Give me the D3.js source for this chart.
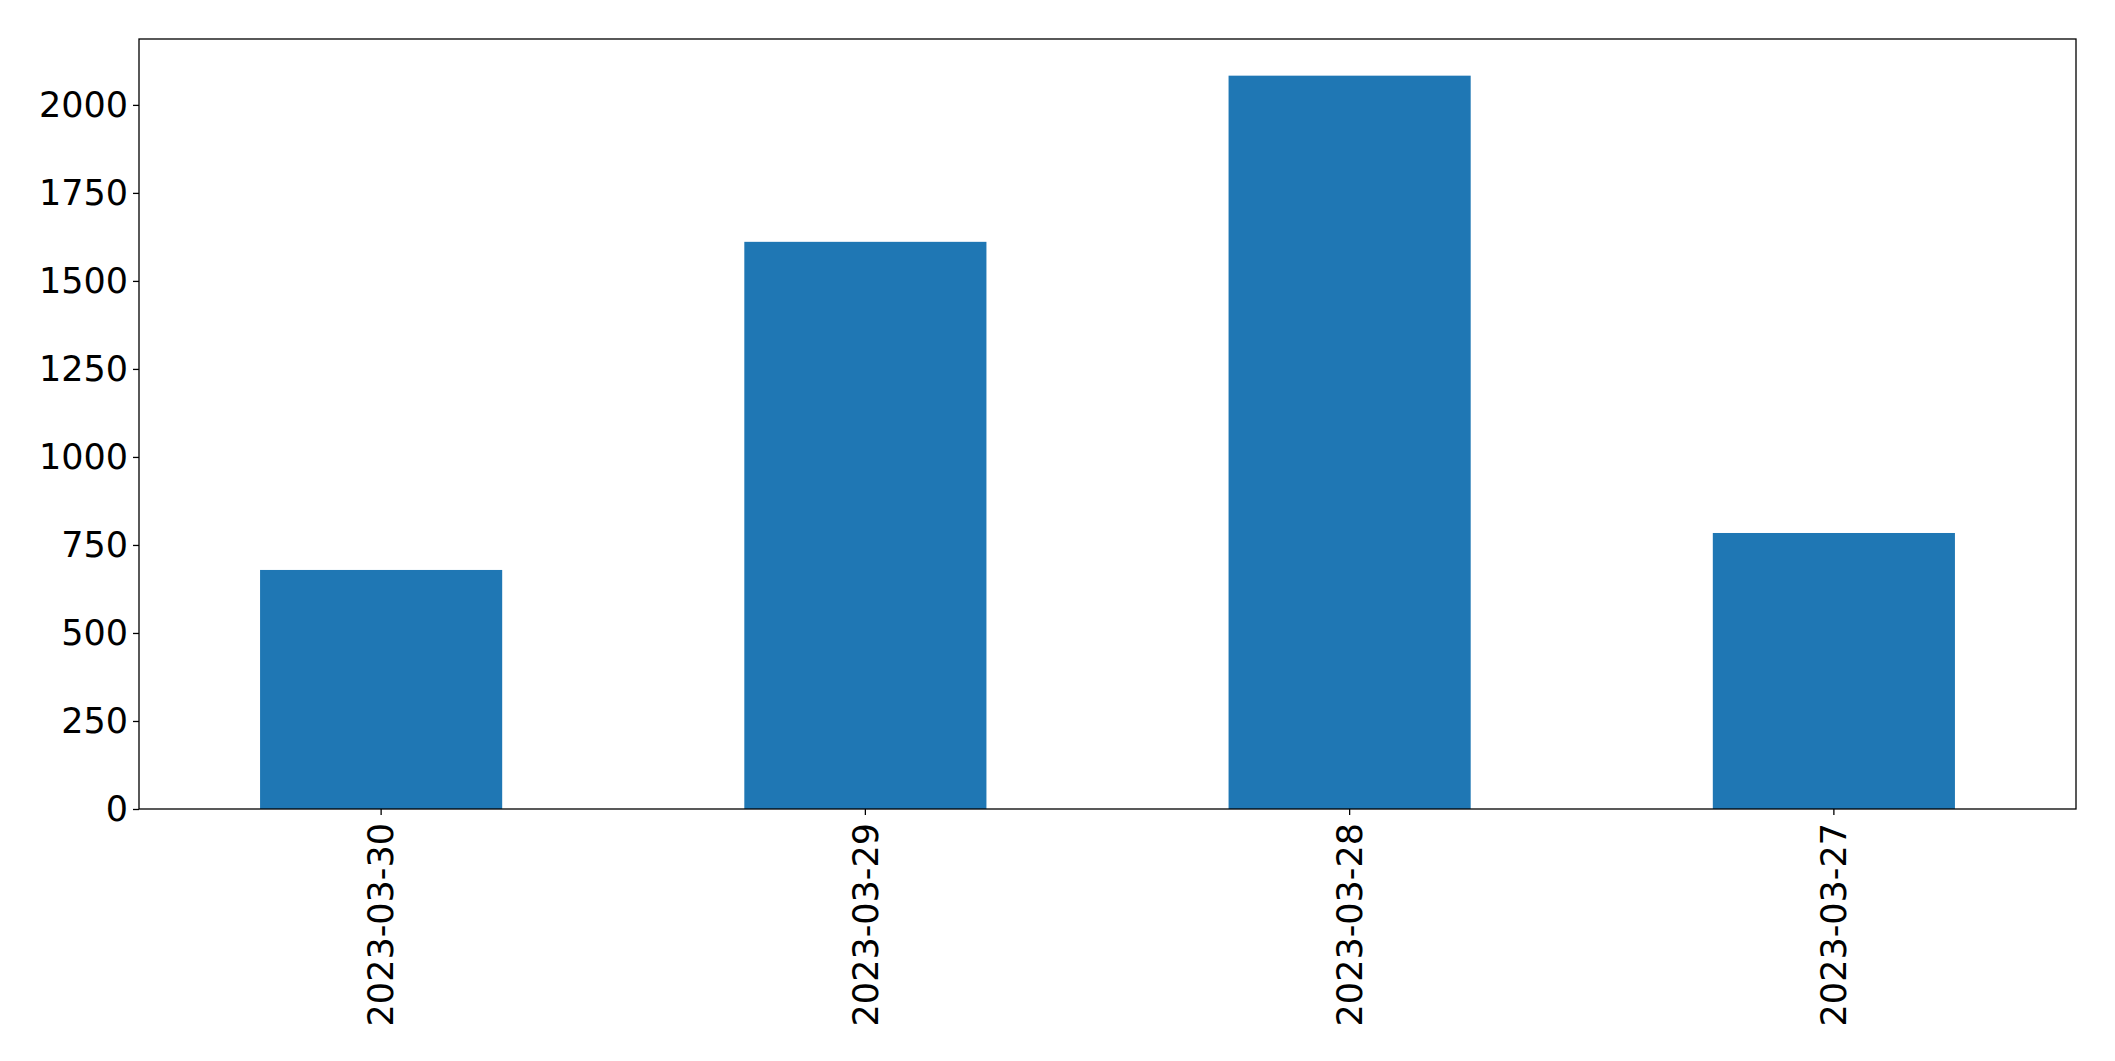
<!DOCTYPE html>
<html>
<head>
<meta charset="utf-8">
<script src="https://cdn.jsdelivr.net/npm/d3@7"></script>
<style>
  html, body { margin: 0; padding: 0; background: #fff; }
  svg { display: block; font-family: "DejaVu Sans", sans-serif; }
</style>
</head>
<body>
<svg id="chart" width="2115" height="1061"></svg>
<script>
const categories = ["2023-03-30", "2023-03-29", "2023-03-28", "2023-03-27"];
const values = [679, 1611, 2083, 784];
const yTicks = [0, 250, 500, 750, 1000, 1250, 1500, 1750, 2000];

const W = 2115, H = 1061;
const margin = { left: 139, right: 2076, top: 39, bottom: 809 };
const svg = d3.select("#chart");

const x = d3.scaleBand().domain(categories).range([margin.left, margin.right]).paddingInner(0.5).paddingOuter(0.25);
const yMax = d3.max(values) * 1.05;
const y = d3.scaleLinear().domain([0, yMax]).range([margin.bottom, margin.top]);

svg.append("g").selectAll("rect").data(values).join("rect")
  .attr("x", (d, i) => x(categories[i]))
  .attr("width", x.bandwidth())
  .attr("y", d => y(d))
  .attr("height", d => y(0) - y(d))
  .attr("fill", "#1f77b4");

// frame
svg.append("rect")
  .attr("x", margin.left).attr("y", margin.top)
  .attr("width", margin.right - margin.left)
  .attr("height", margin.bottom - margin.top)
  .attr("fill", "none").attr("stroke", "#000").attr("stroke-width", 1.3);

const yAxis = svg.append("g")
  .attr("transform", `translate(${margin.left},0)`)
  .call(d3.axisLeft(y).tickValues(yTicks).tickSize(6).tickPadding(5).tickFormat(d3.format("d")));
yAxis.select(".domain").remove();
yAxis.selectAll("line").attr("stroke", "#000").attr("stroke-width", 1.3);
yAxis.selectAll("text").attr("font-size", 35).attr("fill", "#000")
  .attr("font-family", "DejaVu Sans, sans-serif");

const xAxis = svg.append("g")
  .attr("transform", `translate(0,${margin.bottom})`)
  .call(d3.axisBottom(x).tickSize(6).tickPadding(8));
xAxis.select(".domain").remove();
xAxis.selectAll("line").attr("stroke", "#000").attr("stroke-width", 1.3);
xAxis.selectAll("text")
  .attr("font-size", 35).attr("fill", "#000")
  .attr("font-family", "DejaVu Sans, sans-serif")
  .attr("transform", "rotate(-90)")
  .attr("text-anchor", "end")
  .attr("dy", "0.35em")
  .attr("x", -14)
  .attr("y", 0);
</script>
</body>
</html>
